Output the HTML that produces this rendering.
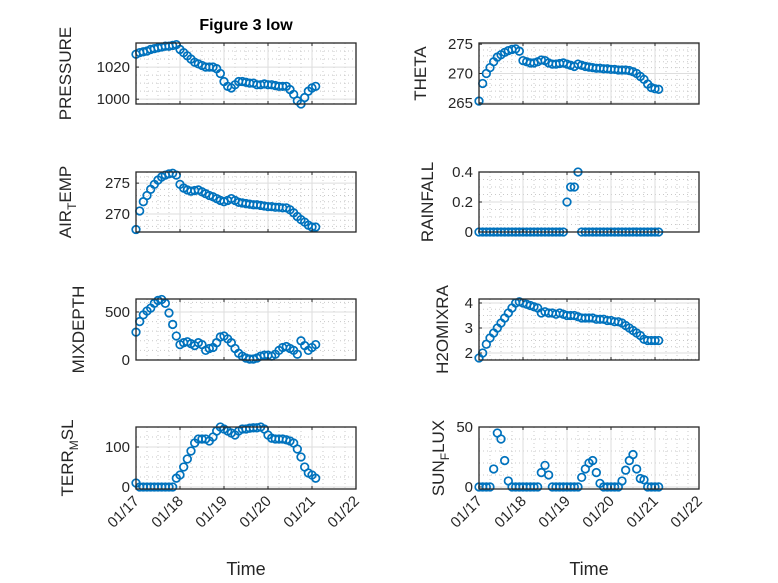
<!DOCTYPE html>
<html><head><meta charset="utf-8"><style>
html,body{margin:0;padding:0;background:#fff;}
svg{display:block;font-family:"Liberation Sans","DejaVu Sans",sans-serif;}
</style></head><body>
<svg id="fig" width="778" height="583" viewBox="0 0 778 583"></svg>
<script>
const dayTicks = [17, 18, 19, 20, 21, 22];
const dayLabels = ["01/17", "01/18", "01/19", "01/20", "01/21", "01/22"];
const pressure = [1028,1029,1029.5,1030,1031,1031.5,1032,1032.5,1033,1033,1033.5,1034,1031,1029,1027,1025,1023,1022,1021,1020,1020,1020,1019,1016,1011,1008,1007,1009,1011,1011,1010.5,1010,1010,1009,1009,1009.5,1009,1009,1008.5,1008,1008,1008,1006,1003,999,997,1001,1005,1007,1008];
const theta = [265.3,268.3,270,271,272,272.8,273.2,273.6,273.9,274.1,274.2,273.8,272.2,272,271.8,271.8,272,272.3,272.2,271.8,271.6,271.6,271.7,271.8,271.6,271.4,271.2,271.6,271.4,271.2,271.1,271.0,270.9,270.9,270.8,270.8,270.7,270.7,270.6,270.6,270.6,270.5,270.3,270,269.5,269,268.2,267.6,267.4,267.3];
const airTemp = [267.5,270.5,272,273,274,274.8,275.5,276,276.3,276.5,276.6,276.3,274.8,274.2,273.9,273.7,273.8,273.9,273.6,273.3,273,272.8,272.5,272.2,272.0,272.2,272.5,272.2,271.9,271.8,271.7,271.6,271.5,271.5,271.4,271.3,271.2,271.2,271.1,271.1,271.0,271.0,270.7,270.2,269.6,269.1,268.7,268.2,267.9,267.9];
const rainfall = [0,0,0,0,0,0,0,0,0,0,0,0,0,0,0,0,0,0,0,0,0,0,0,0,0.2,0.3,0.3,0.4,0,0,0,0,0,0,0,0,0,0,0,0,0,0,0,0,0,0,0,0,0,0];
const mixDepth = [290,400,470,510,540,590,620,630,590,490,370,250,160,180,190,170,150,180,160,100,120,130,180,240,250,220,180,120,70,40,20,10,10,20,40,50,50,40,60,100,130,140,120,100,60,200,150,100,130,160];
const h2oMix = [1.8,2.0,2.35,2.6,2.8,3.0,3.2,3.4,3.6,3.8,4.0,4.05,4.0,3.95,3.9,3.85,3.8,3.6,3.65,3.6,3.6,3.55,3.6,3.55,3.5,3.5,3.5,3.45,3.4,3.4,3.4,3.4,3.35,3.35,3.35,3.3,3.3,3.25,3.25,3.2,3.1,3.0,2.9,2.8,2.7,2.55,2.5,2.5,2.5,2.5];
const terrMsl = [10,0,0,0,0,0,0,0,0,0,0,22,30,50,70,90,110,120,120,120,115,125,140,150,145,140,135,130,140,145,145,147,148,148,150,145,130,122,120,120,120,118,115,110,95,75,50,35,30,22];
const sunFlux = [0,0,0,0,15,45,40,22,5,0,0,0,0,0,0,0,0,12,18,10,0,0,0,0,0,0,0,0,8,15,20,22,12,3,0,0,0,0,0,5,14,22,27,15,7,6,0,0,0,0];
const startDay = 17.0;
const stepDay = 1/12;

const NS = "http://www.w3.org/2000/svg";
const svg = document.getElementById("fig");
function mk(tag, attrs, parent) {
  const e = document.createElementNS(NS, tag);
  for (const k in attrs) e.setAttribute(k, attrs[k]);
  (parent || svg).appendChild(e);
  return e;
}

const panels = [
  {name:"pressure", data:pressure, col:0, top:43, bot:104, ymin:997, ymax:1035, ticks:[1000,1020], minor:5, label:["PRESSURE"], lx:71},
  {name:"theta", data:theta, col:1, top:43, bot:104, ymin:264.8, ymax:275.2, ticks:[265,270,275], minor:1, label:["THETA"], lx:426},
  {name:"air-temp", data:airTemp, col:0, top:172, bot:232, ymin:267.1, ymax:276.8, ticks:[270,275], minor:1, label:["AIR","T","EMP"], lx:71},
  {name:"rainfall", data:rainfall, col:1, top:172, bot:232, ymin:0, ymax:0.4, ticks:[0,0.2,0.4], minor:0.05, label:["RAINFALL"], lx:433},
  {name:"mix-depth", data:mixDepth, col:0, top:299, bot:360, ymin:0, ymax:635, ticks:[0,500], minor:100, label:["MIXDEPTH"], lx:84},
  {name:"h2o-mix", data:h2oMix, col:1, top:299, bot:360, ymin:1.72, ymax:4.16, ticks:[2,3,4], minor:0.25, label:["H2OMIXRA"], lx:448},
  {name:"terr-msl", data:terrMsl, col:0, top:427, bot:489, ymin:-5, ymax:150, ticks:[0,100], minor:25, label:["TERR","M","SL"], lx:73},
  {name:"sun-flux", data:sunFlux, col:1, top:427, bot:489, ymin:-1.7, ymax:50, ticks:[0,50], minor:10, label:["SUN","F","LUX"], lx:444}
];
const colX = [[136,356],[479,699]];

panels.forEach(p => {
  const [x0, x1] = colX[p.col];
  const xs = d => x0 + (d - 17) / 5 * (x1 - x0);
  const ys = v => p.bot - (v - p.ymin) / (p.ymax - p.ymin) * (p.bot - p.top);
  const g = mk("g", {});
  
  
  mk("rect", {x:x0, y:p.top, width:x1-x0, height:p.bot-p.top, fill:"#fff"}, g);
  for (let d = 17.25; d < 22; d += 0.25) {
    if (Math.abs(d - Math.round(d)) < 1e-6) continue;
    mk("line", {x1:xs(d), x2:xs(d), y1:p.top, y2:p.bot, stroke:"#c8c8c8", "stroke-width":1, "stroke-dasharray":"1 3"}, g);
  }
  const first = Math.ceil(p.ymin / p.minor) * p.minor;
  for (let v = first; v <= p.ymax + 1e-9; v += p.minor) {
    if (p.ticks.some(t => Math.abs(t - v) < 1e-6)) continue;
    mk("line", {x1:x0, x2:x1, y1:ys(v), y2:ys(v), stroke:"#c8c8c8", "stroke-width":1, "stroke-dasharray":"1 3"}, g);
  }
  dayTicks.forEach(d => mk("line", {x1:xs(d), x2:xs(d), y1:p.top, y2:p.bot, stroke:"#dedede", "stroke-width":1}, g));
  p.ticks.forEach(t => mk("line", {x1:x0, x2:x1, y1:ys(t), y2:ys(t), stroke:"#dedede", "stroke-width":1}, g));
  p.ticks.forEach(t => {
    const tl = mk("text", {x:x0-6, y:ys(t)+5, "text-anchor":"end", "font-size":15, fill:"#262626"}, g);
    tl.textContent = String(t);
    
    
    mk("line", {x1:x0, x2:x0+3, y1:ys(t), y2:ys(t), stroke:"#262626"}, g);
  });
  const mg = mk("g", {fill:"none", stroke:"#0072BD", "stroke-width":1.7}, g);
  
  
  p.data.forEach((v, i) => {
    const c = mk("circle", {cx:xs(startDay + i*stepDay), cy:ys(v), r:3.8}, mg);
    
    
  });
  mk("rect", {x:x0, y:p.top, width:x1-x0, height:p.bot-p.top, fill:"none", stroke:"#262626", "stroke-width":1.3}, g);
  dayTicks.forEach(d => {
    mk("line", {x1:xs(d), x2:xs(d), y1:p.bot, y2:p.bot-3, stroke:"#262626"}, g);
    mk("line", {x1:xs(d), x2:xs(d), y1:p.top, y2:p.top+3, stroke:"#262626"}, g);
  });
  const cy = (p.top + p.bot) / 2;
  const yl = mk("text", {x:0, y:0, "text-anchor":"middle", "font-size":17, fill:"#262626", transform:`translate(${p.lx},${cy}) rotate(-90)`}, g);
  
  
  if (p.label.length === 1) yl.textContent = p.label[0];
  else {
    const a = mk("tspan", {}, yl); a.textContent = p.label[0];
    const b = mk("tspan", {"font-size":12, dy:5}, yl); b.textContent = p.label[1];
    const c = mk("tspan", {dy:-5}, yl); c.textContent = p.label[2];
  }
  if (p.name === "terr-msl" || p.name === "sun-flux") {
    dayTicks.forEach((d, i) => {
      const t = mk("text", {x:0, y:0, "text-anchor":"end", "font-size":15, fill:"#262626", transform:`translate(${xs(d)+4},${p.bot+13}) rotate(-45)`}, g);
      t.textContent = dayLabels[i];
      
      
    });
    const xl = mk("text", {x:(x0+x1)/2, y:575, "text-anchor":"middle", "font-size":18, fill:"#262626"}, g);
    xl.textContent = "Time";
    
    
  }
});
const title = mk("text", {x:246, y:30, "text-anchor":"middle", "font-size":16, "font-weight":"bold", fill:"#000"});
title.textContent = "Figure 3 low";


</script>
</body></html>
